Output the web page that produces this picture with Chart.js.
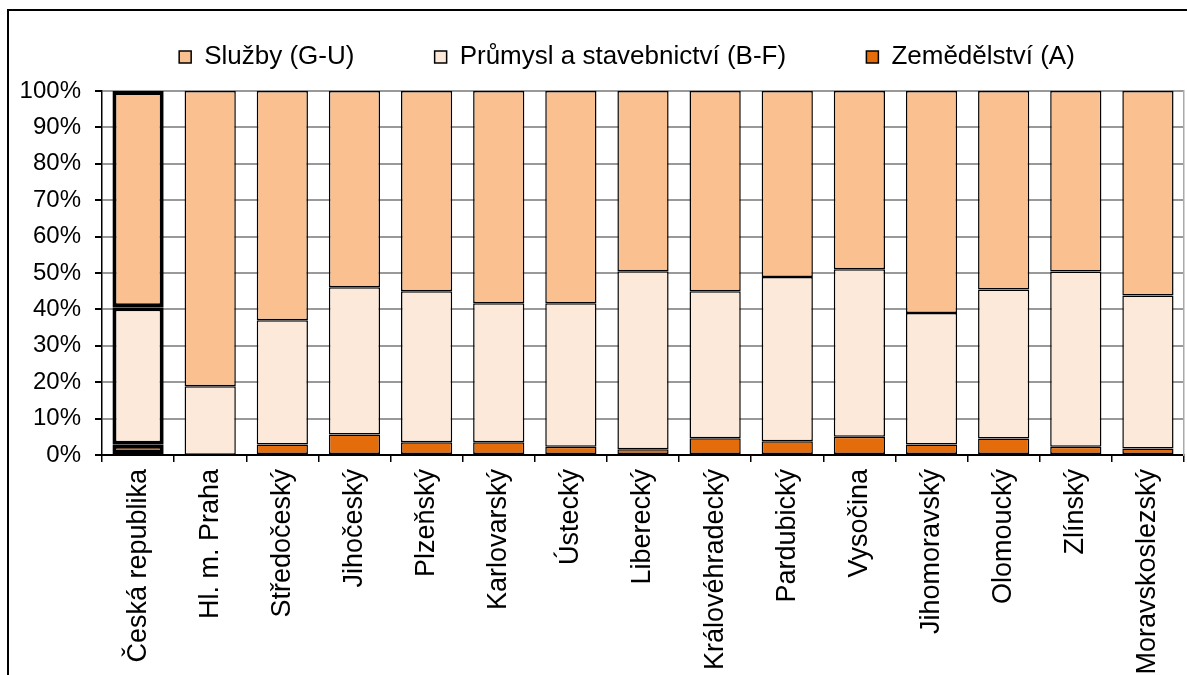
<!DOCTYPE html>
<html>
<head>
<meta charset="utf-8">
<script src="https://cdn.jsdelivr.net/npm/chart.js@4"></script>
<style>
    body { margin: 0; background: #fff; }
    #wrap { position: relative; width: 1187px; height: 675px; }
    #frame { position: absolute; left: 7px; top: 9px; width: 1190px; height: 700px; border: 2px solid #000; box-sizing: border-box; }
    canvas { position: absolute; left: 0; top: 0; }
</style>
</head>
<body>
<div id="wrap">
    <div id="frame"></div>
    <canvas id="chart" width="1187" height="675"></canvas>
</div>
<script>
const regions = ['Česká republika', 'Hl. m. Praha', 'Středočeský', 'Jihočeský', 'Plzeňský', 'Karlovarský', 'Ústecký', 'Liberecký',
    'Královéhradecký', 'Pardubický', 'Vysočina', 'Jihomoravský', 'Olomoucký', 'Zlínský', 'Moravskoslezský'];
const zemedelstvi = [2.8, 0.1, 2.9, 5.6, 3.5, 3.5, 2.3, 1.6, 4.6, 3.8, 5.0, 2.9, 4.5, 2.3, 1.8];
const prumysl = [37.8, 18.8, 34.1, 40.5, 41.5, 38.2, 39.4, 48.9, 40.4, 45.1, 46.0, 36.1, 41.0, 48.1, 42.0];
const sluzby = [59.4, 81.1, 63.0, 53.9, 55.0, 58.3, 58.3, 49.5, 55.0, 51.1, 49.0, 61.0, 54.5, 49.6, 56.2];
const yTicks = [0, 10, 20, 30, 40, 50, 60, 70, 80, 90, 100];

Chart.defaults.font.family = "'Liberation Sans', Arial, sans-serif";
Chart.defaults.color = '#000';

// first bar (whole republic) is outlined thicker
const borders = regions.map((r, i) => i === 0 ? 4 : 1.5);

const gap = '\u00a0'.repeat(10);
const tail = '\u00a0'.repeat(14);

// a bit more room under the legend
const legendSpace = {
    id: 'legendSpace',
    beforeInit(chart) {
        const fit = chart.legend.fit;
        chart.legend.fit = function() {
            fit.call(this);
            this.height += 11;
        };
    }
};

const ctx = document.getElementById('chart').getContext('2d');
new Chart(ctx, {
    type: 'bar',
    data: {
        labels: regions,
        datasets: [
            {
                label: 'Zemědělství (A)',
                data: zemedelstvi,
                backgroundColor: '#E46C0A',
                borderColor: '#000',
                borderWidth: borders,
                borderSkipped: false
            },
            {
                label: 'Průmysl a stavebnictví (B-F)',
                data: prumysl,
                backgroundColor: '#FDE9D9',
                borderColor: '#000',
                borderWidth: borders,
                borderSkipped: false
            },
            {
                label: 'Služby (G-U)',
                data: sluzby,
                backgroundColor: '#FAC090',
                borderColor: '#000',
                borderWidth: borders,
                borderSkipped: false
            }
        ]
    },
    plugins: [legendSpace],
    options: {
        responsive: false,
        animation: false,
        layout: {
            padding: { top: 36, right: 3, left: 10, bottom: 0 }
        },
        datasets: {
            bar: { barPercentage: 0.71, categoryPercentage: 1.0 }
        },
        plugins: {
            tooltip: { enabled: false },
            legend: {
                position: 'top',
                align: 'end',
                reverse: true,
                labels: {
                    boxWidth: 12,
                    boxHeight: 12,
                    padding: 8,
                    font: { size: 26 },
                    generateLabels: function(chart) {
                        const items = Chart.defaults.plugins.legend.labels.generateLabels(chart);
                        items.forEach(item => {
                            item.lineWidth = 1.5;
                            item.strokeStyle = '#000';
                            item.text = item.text + (item.datasetIndex === 0 ? tail : gap);
                        });
                        return items;
                    }
                }
            }
        },
        scales: {
            x: {
                stacked: true,
                grid: {
                    offset: true,
                    drawOnChartArea: false,
                    tickLength: 7,
                    tickColor: '#000',
                    lineWidth: 1.5
                },
                border: { color: '#000', width: 2 },
                ticks: {
                    autoSkip: false,
                    maxRotation: 90,
                    minRotation: 90,
                    padding: 7,
                    font: { size: 27 }
                },
                afterFit: scale => {
                    scale.height = 220;
                    scale.paddingLeft = 0;
                    scale.paddingRight = 0;
                }
            },
            y: {
                stacked: true,
                min: 0,
                max: 100,
                afterBuildTicks: scale => { scale.ticks = yTicks.map(v => ({ value: v })); },
                grid: {
                    color: '#999',
                    lineWidth: 2,
                    tickLength: 7,
                    tickColor: '#000'
                },
                border: { color: '#000', width: 1.5 },
                ticks: {
                    padding: 14,
                    font: { size: 24 },
                    callback: v => v + '%'
                },
                afterFit: scale => { scale.width = 92; }
            },
            y2: {
                position: 'right',
                min: 0,
                max: 100,
                grid: { drawOnChartArea: false, drawTicks: false },
                border: { color: '#aaa', width: 1.5 },
                ticks: { display: false },
                afterFit: scale => { scale.width = 0; }
            }
        }
    }
});
</script>
</body>
</html>
